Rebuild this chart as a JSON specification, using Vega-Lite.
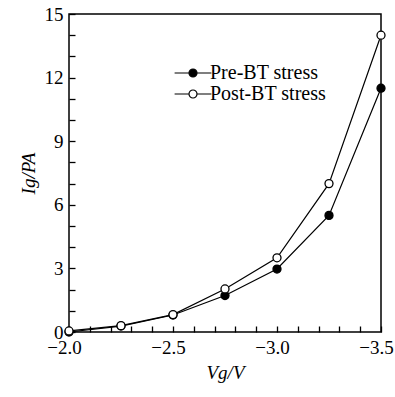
{
  "$schema": "https://vega.github.io/schema/vega-lite/v6.json",
  "width": 312,
  "height": 318,
  "autosize": "none",
  "padding": {"left": 69, "top": 14, "right": 14, "bottom": 65},
  "background": "white",
  "config": {
    "view": {"stroke": "black", "strokeWidth": 1.5},
    "font": "Liberation Serif",
    "axis": {
      "labelFont": "Liberation Serif",
      "titleFont": "Liberation Serif",
      "labelFontSize": 19,
      "titleFontSize": 19,
      "labelColor": "black",
      "titleColor": "black",
      "titleFontWeight": "normal",
      "domain": false,
      "grid": false,
      "labelFlush": false,
      "ticks": true,
      "tickOpacity": 1,
      "tickColor": "black",
      "tickWidth": 1.3,
      "zindex": 1
    }
  },
  "data": {
    "values": [
      {"vg": -2.0, "ig": 0.0, "series": "Pre-BT stress"},
      {"vg": -2.25, "ig": 0.28, "series": "Pre-BT stress"},
      {"vg": -2.5, "ig": 0.8, "series": "Pre-BT stress"},
      {"vg": -2.75, "ig": 1.72, "series": "Pre-BT stress"},
      {"vg": -3.0, "ig": 2.97, "series": "Pre-BT stress"},
      {"vg": -3.25, "ig": 5.5, "series": "Pre-BT stress"},
      {"vg": -3.5, "ig": 11.5, "series": "Pre-BT stress"},
      {"vg": -2.0, "ig": 0.05, "series": "Post-BT stress"},
      {"vg": -2.25, "ig": 0.3, "series": "Post-BT stress"},
      {"vg": -2.5, "ig": 0.82, "series": "Post-BT stress"},
      {"vg": -2.75, "ig": 2.03, "series": "Post-BT stress"},
      {"vg": -3.0, "ig": 3.5, "series": "Post-BT stress"},
      {"vg": -3.25, "ig": 7.0, "series": "Post-BT stress"},
      {"vg": -3.5, "ig": 14.0, "series": "Post-BT stress"}
    ]
  },
  "encoding": {
    "x": {
      "field": "vg",
      "type": "quantitative",
      "scale": {"domain": [-3.5, -2.0], "reverse": true, "nice": false, "zero": false},
      "axis": {
        "title": "Vg/V",
        "titleFontStyle": "italic",
        "values": [-2.0, -2.1, -2.2, -2.3, -2.4, -2.5, -2.6, -2.7, -2.8, -2.9, -3.0, -3.1, -3.2, -3.3, -3.4, -3.5],
        "format": ".1f",
        "labelExpr": "abs(datum.value*2 - round(datum.value*2)) < 0.001 ? datum.label : ''",
        "tickSize": -6,
        "tickOpacity": 1,
        "labelPadding": 12,
        "labelOffset": -5,
        "titlePadding": 6
      }
    },
    "y": {
      "field": "ig",
      "type": "quantitative",
      "scale": {"domain": [0, 15], "nice": false},
      "axis": {
        "title": "Ig/PA",
        "titleFontStyle": "italic",
        "values": [0, 1, 2, 3, 4, 5, 6, 7, 8, 9, 10, 11, 12, 13, 14, 15],
        "labelExpr": "datum.value % 3 == 0 ? datum.label : ''",
        "tickSize": -6,
        "tickOpacity": 1,
        "labelPadding": 12,
        "titlePadding": 6
      }
    }
  },
  "layer": [
    {
      "mark": {"type": "line", "color": "black", "strokeWidth": 1.2},
      "encoding": {"detail": {"field": "series"}}
    },
    {
      "mark": {"type": "point", "shape": "circle", "filled": true, "stroke": "black", "strokeWidth": 1.3, "size": 64, "opacity": 1},
      "encoding": {
        "fill": {
          "field": "series",
          "type": "nominal",
          "scale": {"domain": ["Pre-BT stress", "Post-BT stress"], "range": ["black", "white"]},
          "legend": {
            "title": null,
            "orient": "none",
            "legendX": 114,
            "legendY": 49,
            "padding": 0,
            "rowPadding": 1,
            "symbolType": "M-4.6,0H-1M1,0H4.6M-1,0A1,1 0 1,0 1,0A1,1 0 1,0 -1,0Z",
            "symbolSize": 64,
            "symbolStrokeColor": "black",
            "symbolStrokeWidth": 1.2,
            "labelFont": "Liberation Serif",
            "labelFontSize": 20,
            "labelColor": "black",
            "labelOffset": 7
          }
        },
        "order": {"field": "series", "sort": "descending"}
      }
    }
  ]
}
